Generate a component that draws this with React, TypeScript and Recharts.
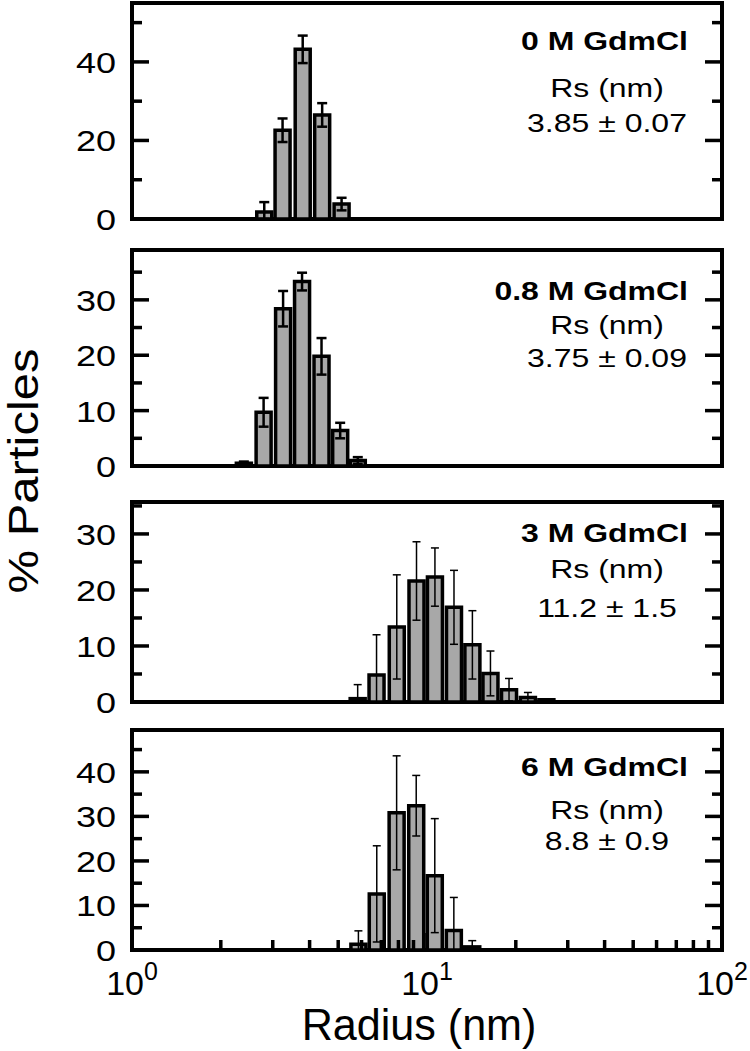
import React from 'react';
import { ComposedChart, Bar, ErrorBar, XAxis, YAxis, ReferenceArea, Customized } from 'recharts';

// ---------- data ----------
const xTickValues = [1, 2, 3, 4, 5, 6, 7, 8, 9, 10, 20, 30, 40, 50, 60, 70, 80, 90, 100];
const xMajorTicks = [1, 10, 100];
const xTickExponents = ['0', '1', '2'];

const radius0M = [2.8, 3.23, 3.78, 4.4, 5.12];
const pct0M = [1.8, 22.6, 43.2, 26.5, 3.8];
const err0M = [2.5, 3.0, 3.5, 3.0, 1.6];

const radius08M = [2.4, 2.8, 3.26, 3.78, 4.4, 5.09, 5.84];
const pct08M = [0.5, 9.7, 28.4, 33.3, 19.8, 6.4, 1.0];
const err08M = [0.3, 2.6, 3.2, 1.6, 3.3, 1.4, 0.6];

const radius3M = [5.8, 6.72, 7.87, 9.18, 10.6, 12.3, 14.2, 16.35, 18.9, 21.9, 25.3];
const pct3M = [0.6, 4.8, 13.4, 21.6, 22.3, 16.9, 10.2, 5.1, 2.2, 0.8, 0.4];
const err3M = [2.5, 7.2, 9.3, 7.0, 5.2, 6.6, 6.1, 4.0, 2.0, 0.9, 0];

const radius6M = [5.84, 6.74, 7.87, 9.17, 10.6, 12.3, 14.2];
const pct6M = [1.3, 12.6, 30.8, 32.4, 16.7, 4.4, 0.7];
const err6M = [3.0, 10.8, 12.8, 6.8, 12.8, 7.4, 1.4];

const titles = ['0 M GdmCl', '0.8 M GdmCl', '3 M GdmCl', '6 M GdmCl'];
const rsValues = ['3.85 ± 0.07', '3.75 ± 0.09', '11.2 ± 1.5', '8.8 ± 0.9'];
const yMaxes = [55, 39, 35.7, 49.4];
const yMajors = [[0, 20, 40], [0, 10, 20, 30], [0, 10, 20, 30], [0, 10, 20, 30, 40]];
const yMinors = [[10, 30, 50], [5, 15, 25, 35], [5, 15, 25, 35], [5, 15, 25, 35, 45]];

// ---------- layout ----------
const FONT = "'Liberation Sans', Arial, Helvetica, sans-serif";
const MT = 6;
const MB = 20;
const panelTops = [3, 250, 502, 730];
const panelBottoms = [219, 466, 702, 950];
const titleBase = [50, 300, 542, 776];
const rsBase = [97, 334, 578, 819];
const valBase = [132, 367, 617, 850];
const errHalf = [5, 5, 4, 4];
const errStroke = [2.5, 2.5, 1.5, 1.5];

const seriesRadius = [radius0M, radius08M, radius3M, radius6M];
const seriesPct = [pct0M, pct08M, pct3M, pct6M];
const seriesErr = [err0M, err08M, err3M, err6M];

function SText(props: any) {
  const { x, y, sx = 1, size, anchor = 'start', weight = 'normal', children } = props;
  return (
    <text
      transform={`translate(${x},${y}) scale(${sx},1)`}
      x={0}
      y={0}
      textAnchor={anchor}
      fontSize={size}
      fontWeight={weight}
      fontFamily={FONT}
      fill="#000"
    >
      {children}
    </text>
  );
}

function Annot(props: any) {
  const { i, chartTop } = props;
  return (
    <g>
      <SText x={688} y={titleBase[i] - chartTop} sx={1.23} size={26} anchor="end" weight="bold">
        {titles[i]}
      </SText>
      <SText x={607} y={rsBase[i] - chartTop} sx={1.28} size={25} anchor="middle">
        Rs (nm)
      </SText>
      <SText x={607} y={valBase[i] - chartTop} sx={1.28} size={25} anchor="middle">
        {rsValues[i]}
      </SText>
    </g>
  );
}

function PanelChart({ i }: { i: number }) {
  const last = i === 3;
  const data = seriesRadius[i].map((r, k) => ({
    r,
    pct: seriesPct[i][k],
    e: [Math.min(seriesErr[i][k], seriesPct[i][k]), seriesErr[i][k]],
  }));
  const plotH = panelBottoms[i] - panelTops[i];
  const xAxisH = last ? 100 : 0;
  const mb = last ? 6 : MB;
  const height = plotH + MT + mb + xAxisH;
  const chartTop = panelTops[i] - MT;
  const yMajor = yMajors[i];
  const yTicks = [...yMajor, ...yMinors[i]].sort((a, b) => a - b);

  const xTick = (tp: any) => {
    const { x, y, payload } = tp;
    const v = payload.value;
    const mi = xMajorTicks.indexOf(v);
    const len = mi >= 0 ? 17 : 10;
    return (
      <g>
        <line x1={x} y1={y} x2={x} y2={y - len} stroke="#000" strokeWidth={3.5} />
        {last && mi >= 0 ? (
          <text x={x} y={y + 45} textAnchor="middle" fontFamily={FONT} fontSize={34} fill="#000">
            10
            <tspan dy={-15} fontSize={25}>
              {xTickExponents[mi]}
            </tspan>
          </text>
        ) : null}
      </g>
    );
  };

  const yTickL = (tp: any) => {
    const { x, y, payload } = tp;
    const v = payload.value;
    const major = yMajor.indexOf(v) >= 0;
    const len = major ? 17 : 10;
    return (
      <g>
        <line x1={x} y1={y} x2={x + len} y2={y} stroke="#000" strokeWidth={3.5} />
        {major ? (
          <SText x={x - 16} y={y + 11} sx={1.2} size={30} anchor="end">
            {String(v)}
          </SText>
        ) : null}
      </g>
    );
  };

  const yTickR = (tp: any) => {
    const { x, y, payload } = tp;
    const major = yMajor.indexOf(payload.value) >= 0;
    const len = major ? 17 : 10;
    return <line x1={x} y1={y} x2={x - len} y2={y} stroke="#000" strokeWidth={3.5} />;
  };

  const radiusLabel = (lp: any) => {
    const vb = lp.viewBox || {};
    return (
      <SText x={vb.x + vb.width / 2 - 8} y={vb.y + 90} sx={0.98} size={44} anchor="middle">
        Radius (nm)
      </SText>
    );
  };

  return (
    <div style={{ position: 'absolute', left: 0, top: chartTop, width: 750, height }}>
      <ComposedChart
        width={750}
        height={height}
        data={data}
        margin={{ top: MT, right: 18, bottom: mb, left: 72 }}
      >
        <XAxis
          xAxisId="x"
          type="number"
          dataKey="r"
          scale="log"
          domain={[1, 100]}
          ticks={xTickValues}
          interval={0}
          allowDataOverflow
          axisLine={false}
          tickLine={false}
          tickSize={0}
          tickMargin={0}
          height={xAxisH}
          tick={xTick}
          label={last ? { content: radiusLabel } : undefined}
        />
        <YAxis
          yAxisId="l"
          type="number"
          domain={[0, yMaxes[i]]}
          ticks={yTicks}
          interval={0}
          allowDataOverflow
          axisLine={false}
          tickLine={false}
          tickSize={0}
          tickMargin={0}
          width={60}
          tick={yTickL}
        />
        <YAxis
          yAxisId="r"
          orientation="right"
          type="number"
          domain={[0, yMaxes[i]]}
          ticks={yTicks}
          interval={0}
          allowDataOverflow
          axisLine={false}
          tickLine={false}
          tickSize={0}
          tickMargin={0}
          width={10}
          tick={yTickR}
        />
        <Bar
          xAxisId="x"
          yAxisId="l"
          dataKey="pct"
          barSize={15}
          fill="#a8a8a8"
          stroke="#000"
          strokeWidth={3.5}
          isAnimationActive={false}
        >
          <ErrorBar dataKey="e" width={errHalf[i]} stroke="#000" strokeWidth={errStroke[i]} direction="y" />
        </Bar>
        <ReferenceArea
          xAxisId="x"
          yAxisId="l"
          x1={1}
          x2={100}
          y1={0}
          y2={yMaxes[i]}
          fill="none"
          fillOpacity={0}
          stroke="#000"
          strokeWidth={4}
          ifOverflow="visible"
        />
        <Customized component={<Annot i={i} chartTop={chartTop} />} />
      </ComposedChart>
    </div>
  );
}

export default function App() {
  return (
    <div style={{ position: 'absolute', left: 0, top: 0, width: 750, height: 1051, background: '#fff' }}>
      {[0, 1, 2, 3].map((i) => (
        <PanelChart key={i} i={i} />
      ))}
      <svg width={80} height={1051} style={{ position: 'absolute', left: 0, top: 0 }}>
        <text
          transform="translate(38,471) rotate(-90) scale(1.14,1)"
          textAnchor="middle"
          fontFamily={FONT}
          fontSize={43}
          fill="#000"
        >
          % Particles
        </text>
      </svg>
    </div>
  );
}
